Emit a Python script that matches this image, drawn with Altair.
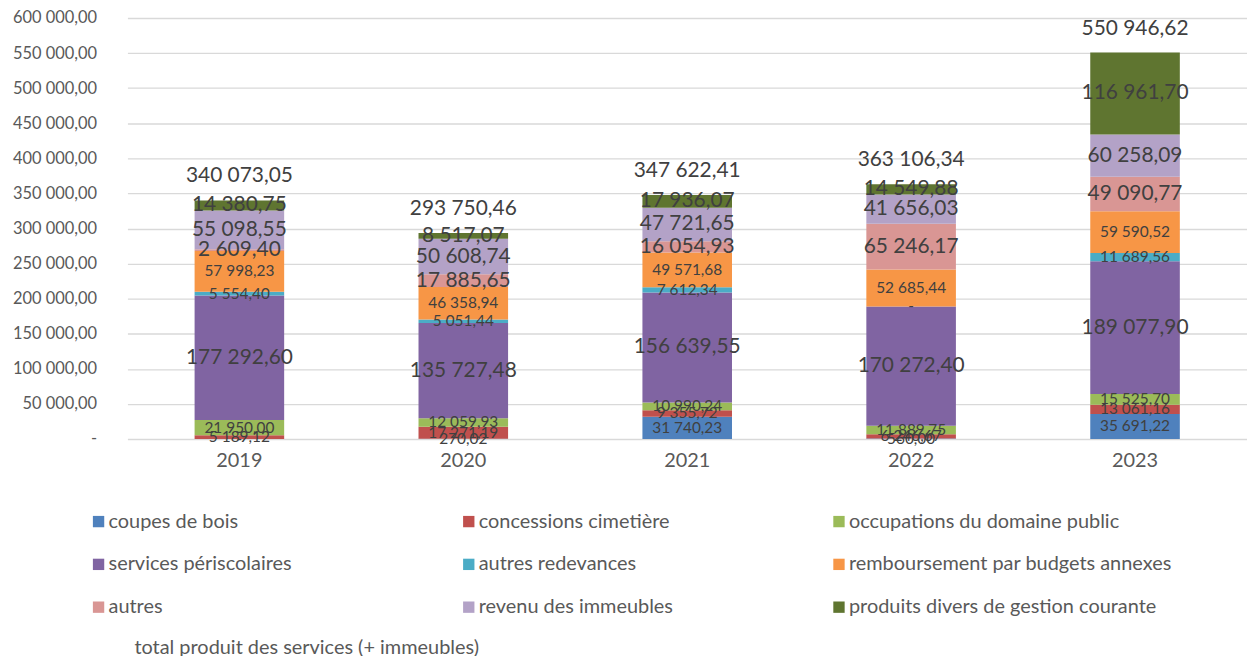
import altair as alt
import pandas as pd

years = ["2019", "2020", "2021", "2022", "2023"]
series = [
    "coupes de bois",
    "concessions cimetière",
    "occupations du domaine public",
    "services périscolaires",
    "autres redevances",
    "remboursement par budgets annexes",
    "autres",
    "revenu des immeubles",
    "produits divers de gestion courante",
]
total_name = "total produit des services (+ immeubles)"
colors = ["#4F81BD", "#C0504D", "#9BBB59", "#8064A2", "#4BACC6",
          "#F79646", "#D99694", "#B3A2C7", "#5F7530"]

coupes_de_bois = [0.00, 270.02, 31740.23, 560.00, 35691.22]
concessions_cimetiere = [5189.12, 17271.19, 9355.72, 6246.67, 13061.16]
occupations_domaine_public = [21950.00, 12059.93, 10990.24, 11889.75, 15525.70]
services_periscolaires = [177292.60, 135727.48, 156639.55, 170272.40, 189077.90]
autres_redevances = [5554.40, 5051.44, 7612.34, 0.00, 11689.56]
remboursement_budgets_annexes = [57998.23, 46358.94, 49571.68, 52685.44, 59590.52]
autres = [2609.40, 17885.65, 16054.93, 65246.17, 49090.77]
revenu_immeubles = [55098.55, 50608.74, 47721.65, 41656.03, 60258.09]
produits_divers = [14380.75, 8517.07, 17936.07, 14549.88, 116961.70]
totals = [340073.05, 293750.46, 347622.41, 363106.34, 550946.62]

big_label_series = ["services périscolaires", "autres", "revenu des immeubles",
                    "produits divers de gestion courante"]

all_values = [coupes_de_bois, concessions_cimetiere, occupations_domaine_public,
              services_periscolaires, autres_redevances, remboursement_budgets_annexes,
              autres, revenu_immeubles, produits_divers]


def fr(v):
    if v == 0:
        return "-"
    return f"{v:,.2f}".replace(",", " ").replace(".", ",")


rows = []
for i, (name, vals) in enumerate(zip(series, all_values)):
    for y, v in zip(years, vals):
        rows.append({"year": y, "series": name, "idx": i, "value": v, "label": fr(v)})
df = pd.DataFrame(rows)

tot_df = pd.DataFrame({"year": years, "total": totals,
                       "label": [fr(t) for t in totals],
                       "kind": [total_name] * len(years)})

FONT = "Lato"
NB = "\u00a0"

x_scale = alt.Scale(domain=years, paddingInner=0.6, paddingOuter=0.3)
x_axis = alt.Axis(title=None, labelAngle=0, ticks=False, domain=False, grid=False,
                  labelFontSize=20, labelColor="#595959", labelPadding=12, labelFont=FONT)
y_scale = alt.Scale(domain=[0, 600000], nice=False)
y_axis = alt.Axis(
    title=None, values=list(range(0, 600001, 50000)), ticks=False, domain=False,
    grid=True, gridColor="#d9d9d9", gridWidth=1.3, labelFontSize=16.5,
    labelColor="#595959", labelPadding=31, labelFont=FONT,
    labelExpr=("datum.value == 0 ? '-" + NB + NB + "' : "
               "replace(replace(format(datum.value, ',.2f'), regexp(',', 'g'), ' '), '.', ',')"),
)

base = alt.Chart(df).transform_stack(
    stack="value", as_=["y0", "y1"], groupby=["year"],
    sort=[alt.SortField("idx", order="ascending")],
).transform_calculate(mid="(datum.y0 + datum.y1) / 2")

bars = base.mark_bar().encode(
    x=alt.X("year:N", scale=x_scale, axis=x_axis),
    y=alt.Y("y0:Q", scale=y_scale, axis=y_axis),
    y2="y1:Q",
    color=alt.Color(
        "series:N",
        scale=alt.Scale(domain=series, range=colors),
        legend=alt.Legend(
            title=None, orient="none", legendX=-39, legendY=496, columns=3,
            direction="horizontal", gridAlign="all", symbolType="square",
            symbolSize=130, symbolStrokeWidth=0, symbolOpacity=1,
            labelFontSize=20, labelFont=FONT, labelColor="#595959",
            labelOffset=0, labelLimit=600, rowPadding=23, columnPadding=27,
            padding=0,
        ),
    ),
)

text_small = base.transform_filter(
    ~alt.FieldOneOfPredicate(field="series", oneOf=big_label_series)
).mark_text(fontSize=15.5, font=FONT, color="#404040", baseline="middle").encode(
    x=alt.X("year:N", scale=x_scale, axis=x_axis),
    y=alt.Y("mid:Q", scale=y_scale, axis=y_axis),
    text="label:N",
)

text_big = base.transform_filter(
    alt.FieldOneOfPredicate(field="series", oneOf=big_label_series)
).mark_text(fontSize=21, font=FONT, color="#404040", baseline="middle").encode(
    x=alt.X("year:N", scale=x_scale, axis=x_axis),
    y=alt.Y("mid:Q", scale=y_scale, axis=y_axis),
    text="label:N",
)

total_text = alt.Chart(tot_df).mark_text(
    fontSize=21, font=FONT, color="#404040", baseline="middle", dy=-24
).encode(
    x=alt.X("year:N", scale=x_scale, axis=x_axis),
    y=alt.Y("total:Q", scale=y_scale, axis=y_axis),
    text="label:N",
    opacity=alt.Opacity(
        "kind:N",
        scale=alt.Scale(domain=[total_name], range=[1]),
        legend=alt.Legend(
            title=None, orient="none", legendX=-39, legendY=623,
            symbolType="square", symbolSize=0,
            symbolFillColor="rgba(0,0,0,0)", symbolStrokeColor="rgba(0,0,0,0)",
            symbolStrokeWidth=0, labelFontSize=20, labelFont=FONT,
            labelColor="#595959", labelOffset=26, labelLimit=600, padding=0,
        ),
    ),
)

chart = alt.layer(bars, text_small, text_big, total_text).properties(
    width=1125, height=423,
    autosize=alt.AutoSizeParams(type="none"),
    padding={"left": 120, "top": 8.5, "right": 0, "bottom": 216},
).configure_view(stroke=None)

chart.save("out.html", embed_options={"renderer": "svg", "actions": False})
